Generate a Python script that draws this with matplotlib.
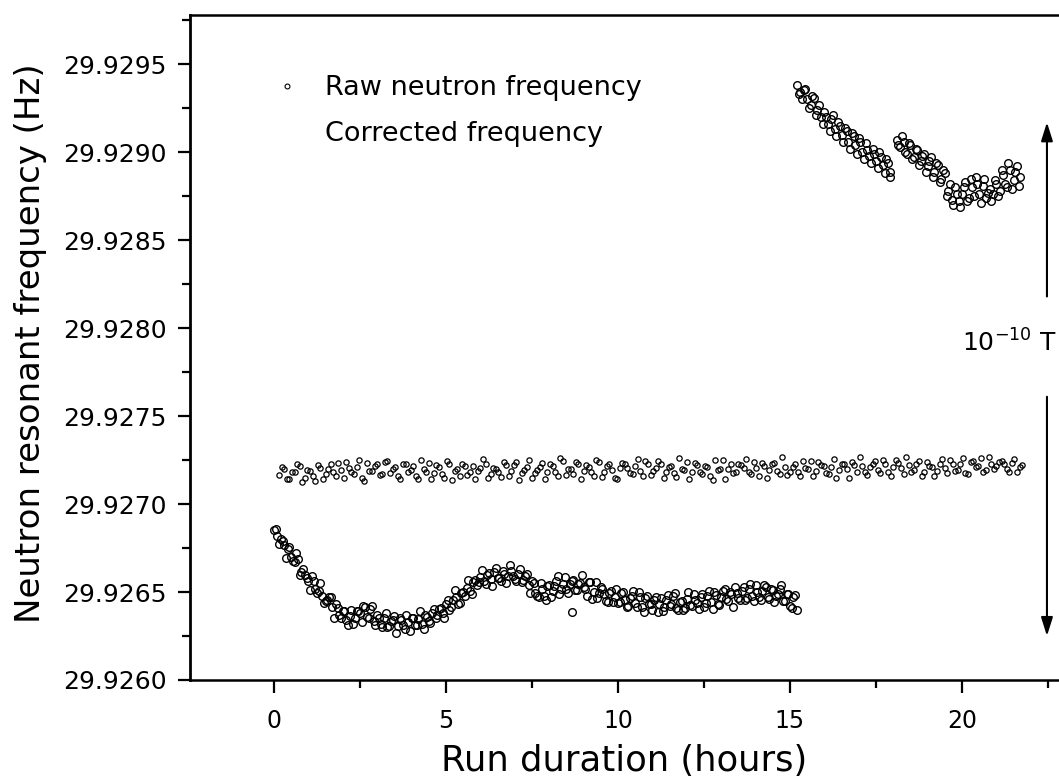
import matplotlib
matplotlib.use("Agg")
import matplotlib.pyplot as plt
from matplotlib.lines import Line2D
from matplotlib.ticker import MultipleLocator, FormatStrFormatter
import numpy as np

# ---------------- data (frequency offsets in micro-Hz above BASE) ----------------
BASE_HZ = 29.9260

# Raw neutron frequency, run 1 (hours) - first pass of readings
raw1_t = [0.0, 0.1, 0.2, 0.3, 0.4, 0.5, 0.6, 0.7, 0.8, 0.9,
          1.0, 1.1, 1.2, 1.3, 1.4, 1.5, 1.6, 1.7, 1.8, 1.9,
          2.0, 2.1, 2.2, 2.3, 2.4, 2.5, 2.6, 2.7, 2.8, 2.9,
          3.0, 3.1, 3.2, 3.3, 3.4, 3.5, 3.6, 3.7, 3.8, 3.9,
          4.0, 4.1, 4.2, 4.3, 4.4, 4.5, 4.6, 4.7, 4.8, 4.9,
          5.0, 5.1, 5.2, 5.3, 5.4, 5.5, 5.6, 5.7, 5.8, 5.9,
          6.0, 6.1, 6.2, 6.3, 6.4, 6.5, 6.6, 6.7, 6.8, 6.9,
          7.0, 7.1, 7.2, 7.3, 7.4, 7.5, 7.6, 7.7, 7.8, 7.9,
          8.0, 8.1, 8.2, 8.3, 8.4, 8.5, 8.6, 8.65, 8.7, 8.8, 8.9,
          9.0, 9.1, 9.2, 9.3, 9.4, 9.5, 9.6, 9.7, 9.8, 9.9,
          10.0, 10.1, 10.2, 10.3, 10.4, 10.5, 10.6, 10.7, 10.8, 10.9,
          11.0, 11.1, 11.2, 11.3, 11.4, 11.5, 11.6, 11.7, 11.8, 11.9,
          12.0, 12.1, 12.2, 12.3, 12.4, 12.5, 12.6, 12.7, 12.8, 12.9,
          13.0, 13.1, 13.2, 13.3, 13.4, 13.5, 13.6, 13.7, 13.8, 13.9,
          14.0, 14.1, 14.2, 14.3, 14.4, 14.5, 14.6, 14.7, 14.8, 14.9,
          15.0, 15.1, 15.2]
raw1_uhz = [852, 820, 801, 770, 742, 700, 668, 690, 612, 598,
            565, 590, 520, 505, 478, 450, 470, 415, 430, 372,
            390, 340, 365, 318, 395, 380, 420, 360, 402, 335,
            370, 318, 355, 300, 338, 362, 305, 340, 290, 330,
            352, 310, 345, 318, 372, 335, 380, 352, 405, 378,
            430, 398, 455, 470, 440, 500, 525, 505, 555, 540,
            585, 560, 598, 575, 612, 580, 560, 605, 590, 620,
            575, 600, 555, 590, 540, 560, 495, 470, 520, 455,
            540, 505, 560, 490, 545, 520, 545, 385, 570, 510, 550,
            530, 480, 555, 500, 465, 530, 490, 445, 505, 470,
            438, 495, 455, 420, 480, 440, 498, 415, 465, 430,
            400, 470, 430, 395, 455, 420, 475, 410, 445, 400,
            460, 425, 490, 440, 470, 415, 480, 445, 500, 430,
            470, 515, 450, 490, 530, 465, 505, 455, 520, 480,
            540, 470, 505, 530, 460, 510, 475, 520, 450, 490,
            420, 470, 400]

# Raw neutron frequency, run 1 - interleaved readings
raw1b_t = [0.05, 0.15, 0.25, 0.35, 0.45, 0.55, 0.65, 0.75, 0.85, 0.95,
           1.05, 1.15, 1.25, 1.35, 1.45, 1.55, 1.65, 1.75, 1.85, 1.95,
           2.05, 2.15, 2.25, 2.35, 2.45, 2.55, 2.65, 2.75, 2.85, 2.95,
           3.05, 3.15, 3.25, 3.35, 3.45, 3.55, 3.65, 3.75, 3.85, 3.95,
           4.05, 4.15, 4.25, 4.35, 4.45, 4.55, 4.65, 4.75, 4.85, 4.95,
           5.05, 5.15, 5.25, 5.35, 5.45, 5.55, 5.65, 5.75, 5.85, 5.95,
           6.05, 6.15, 6.25, 6.35, 6.45, 6.55, 6.65, 6.75, 6.85, 6.95,
           7.05, 7.15, 7.25, 7.35, 7.45, 7.55, 7.65, 7.75, 7.85, 7.95,
           8.05, 8.15, 8.25, 8.35, 8.45, 8.55, 8.65, 8.75, 8.85, 8.95,
           9.05, 9.15, 9.25, 9.35, 9.45, 9.55, 9.65, 9.75, 9.85, 9.95,
           10.05, 10.15, 10.25, 10.35, 10.45, 10.55, 10.65, 10.75, 10.85, 10.95,
           11.05, 11.15, 11.25, 11.35, 11.45, 11.55, 11.65, 11.75, 11.85, 11.95,
           12.05, 12.15, 12.25, 12.35, 12.45, 12.55, 12.65, 12.75, 12.85, 12.95,
           13.05, 13.15, 13.25, 13.35, 13.45, 13.55, 13.65, 13.75, 13.85, 13.95,
           14.05, 14.15, 14.25, 14.35, 14.45, 14.55, 14.65, 14.75, 14.85, 14.95,
           15.05, 15.15]
raw1b_uhz = [860, 775, 790, 695, 755, 675, 720, 595, 630, 580,
             510, 565, 495, 550, 435, 455, 470, 350, 410, 355,
             395, 310, 400, 350, 395, 330, 415, 350, 420, 315,
             350, 300, 380, 305, 343, 265, 352, 310, 370, 277,
             350, 315, 390, 290, 358, 325, 405, 370, 410, 350,
             455, 415, 512, 430, 493, 480, 567, 488, 567, 555,
             625, 547, 608, 537, 635, 581, 622, 552, 651, 589,
             560, 630, 568, 603, 495, 550, 475, 550, 478, 535,
             470, 535, 590, 515, 585, 495, 565, 510, 547, 598,
             517, 555, 463, 555, 497, 520, 448, 497, 446, 520,
             446, 502, 413, 465, 507, 415, 473, 386, 479, 432,
             455, 388, 467, 416, 481, 431, 497, 398, 450, 412,
             499, 421, 453, 405, 487, 439, 506, 403, 481, 429,
             507, 460, 498, 416, 494, 452, 529, 466, 543, 449,
             500, 455, 540, 474, 518, 441, 488, 539, 449, 488,
             410, 485]

# Raw neutron frequency, run 2 (hours)
raw2_t = [15.2, 15.3, 15.4, 15.5, 15.6, 15.7, 15.8, 15.9, 16.0, 16.1,
          16.2, 16.3, 16.4, 16.5, 16.6, 16.7, 16.8, 16.9, 17.0, 17.1,
          17.2, 17.3, 17.4, 17.5, 17.6, 17.7, 17.8, 17.9,
          18.1, 18.2, 18.3, 18.4, 18.5, 18.6, 18.7, 18.8, 18.9, 19.0,
          19.1, 19.2, 19.3, 19.4, 19.5, 19.6, 19.7, 19.8, 19.9, 20.0,
          20.1, 20.2, 20.3, 20.4, 20.5, 20.6, 20.7, 20.8, 20.9, 21.0,
          21.1, 21.2, 21.3, 21.4, 21.5, 21.6, 21.7]
raw2_uhz = [3380, 3340, 3355, 3300, 3270, 3310, 3240, 3200, 3230, 3160,
            3190, 3130, 3170, 3100, 3140, 3060, 3110, 3040, 3080, 3000,
            3050, 2980, 3020, 2950, 3000, 2930, 2960, 2890,
            3070, 3030, 3060, 2990, 3040, 2970, 3010, 2950, 2990, 2920,
            2970, 2890, 2930, 2850, 2880, 2780, 2730, 2800, 2720, 2760,
            2830, 2740, 2800, 2860, 2760, 2810, 2740, 2790, 2760, 2820,
            2780, 2870, 2800, 2900, 2840, 2920, 2860]
raw2b_t = [15.25, 15.35, 15.45, 15.55, 15.65, 15.75, 15.85, 15.95, 16.05, 16.15,
           16.25, 16.35, 16.45, 16.55, 16.65, 16.75, 16.85, 16.95, 17.05, 17.15,
           17.25, 17.35, 17.45, 17.55, 17.65, 17.75, 17.85, 17.92,
           18.15, 18.25, 18.35, 18.45, 18.55, 18.65, 18.75, 18.85, 18.95, 19.05,
           19.15, 19.25, 19.35, 19.45, 19.55, 19.65, 19.75, 19.85, 19.95, 20.05,
           20.15, 20.25, 20.35, 20.45, 20.55, 20.65, 20.75, 20.85, 20.95, 21.05,
           21.15, 21.25, 21.35, 21.45, 21.55, 21.65]
raw2b_uhz = [3330, 3300, 3360, 3250, 3320, 3210, 3270, 3160, 3200, 3120,
             3210, 3090, 3150, 3060, 3120, 3020, 3090, 2990, 3060, 2960,
             3010, 2940, 2990, 2910, 2970, 2880, 2940, 2860,
             3040, 3090, 3000, 3050, 2960, 3020, 2930, 2980, 2890, 2950,
             2860, 2940, 2830, 2900, 2750, 2820, 2700, 2760, 2690, 2800,
             2720, 2850, 2750, 2820, 2710, 2850, 2770, 2720, 2840, 2750,
             2900, 2820, 2940, 2790, 2890, 2810]

# Corrected frequency (hours)
corr_t = [0.15, 0.30, 0.45, 0.60, 0.75, 0.90, 1.05, 1.20, 1.35, 1.50,
          1.65, 1.80, 1.95, 2.10, 2.25, 2.40, 2.55, 2.70, 2.85, 3.00,
          3.15, 3.30, 3.45, 3.60, 3.75, 3.90, 4.05, 4.20, 4.35, 4.50,
          4.65, 4.80, 4.95, 5.10, 5.25, 5.40, 5.55, 5.70, 5.85, 6.00,
          6.15, 6.30, 6.45, 6.60, 6.75, 6.90, 7.05, 7.20, 7.35, 7.50,
          7.65, 7.80, 7.95, 8.10, 8.25, 8.40, 8.55, 8.70, 8.85, 9.00,
          9.15, 9.30, 9.45, 9.60, 9.75, 9.90, 10.05, 10.20, 10.35, 10.50,
          10.65, 10.80, 10.95, 11.10, 11.25, 11.40, 11.55, 11.70, 11.85, 12.00,
          12.15, 12.30, 12.45, 12.60, 12.75, 12.90, 13.05, 13.20, 13.35, 13.50,
          13.65, 13.80, 13.95, 14.10, 14.25, 14.40, 14.55, 14.70, 14.85, 15.00,
          15.15, 15.30, 15.45, 15.60, 15.75, 15.90, 16.05, 16.20, 16.35, 16.50,
          16.65, 16.80, 16.95, 17.10, 17.25, 17.40, 17.55, 17.70, 17.85, 18.00,
          18.15, 18.30, 18.45, 18.60, 18.75, 18.90, 19.05, 19.20, 19.35, 19.50,
          19.65, 19.80, 19.95, 20.10, 20.25, 20.40, 20.55, 20.70, 20.85, 21.00,
          21.15, 21.30, 21.45, 21.60, 21.75]
corr_uhz = [1165, 1200, 1140, 1185, 1215, 1150, 1190, 1130, 1205, 1170,
            1225, 1160, 1195, 1240, 1180, 1210, 1150, 1235, 1190, 1225,
            1170, 1245, 1200, 1160, 1230, 1185, 1215, 1140, 1200, 1235,
            1175, 1210, 1150, 1225, 1190, 1160, 1215, 1180, 1145, 1205,
            1230, 1170, 1200, 1155, 1220, 1190, 1240, 1175, 1210, 1150,
            1195, 1235, 1180, 1215, 1160, 1245, 1200, 1170, 1225, 1190,
            1210, 1160, 1240, 1185, 1225, 1150, 1205, 1230, 1175, 1215,
            1190, 1245, 1165, 1205, 1230, 1180, 1215, 1155, 1200, 1240,
            1185, 1220, 1170, 1210, 1135, 1195, 1250, 1200, 1175, 1230,
            1205, 1180, 1240, 1160, 1215, 1195, 1235, 1170, 1210, 1185,
            1225, 1160, 1205, 1245, 1190, 1220, 1175, 1210, 1150, 1230,
            1200, 1240, 1185, 1215, 1165, 1225, 1195, 1250, 1180, 1210,
            1235, 1170, 1220, 1195, 1245, 1185, 1215, 1160, 1230, 1205,
            1250, 1190, 1225, 1175, 1240, 1210, 1260, 1195, 1230, 1215,
            1245, 1200, 1235, 1185, 1220]
corrb_t = [0.225, 0.375, 0.525, 0.675, 0.825, 0.975, 1.125, 1.275, 1.425, 1.575,
           1.725, 1.875, 2.025, 2.175, 2.325, 2.475, 2.625, 2.775, 2.925, 3.075,
           3.225, 3.375, 3.525, 3.675, 3.825, 3.975, 4.125, 4.275, 4.425, 4.575,
           4.725, 4.875, 5.025, 5.175, 5.325, 5.475, 5.625, 5.775, 5.925, 6.075,
           6.225, 6.375, 6.525, 6.675, 6.825, 6.975, 7.125, 7.275, 7.425, 7.575,
           7.725, 7.875, 8.025, 8.175, 8.325, 8.475, 8.625, 8.775, 8.925, 9.075,
           9.225, 9.375, 9.525, 9.675, 9.825, 9.975, 10.125, 10.275, 10.425, 10.575,
           10.725, 10.875, 11.025, 11.175, 11.325, 11.475, 11.625, 11.775, 11.925, 12.075,
           12.225, 12.375, 12.525, 12.675, 12.825, 12.975, 13.125, 13.275, 13.425, 13.575,
           13.725, 13.875, 14.025, 14.175, 14.325, 14.475, 14.625, 14.775, 14.925, 15.075,
           15.225, 15.375, 15.525, 15.675, 15.825, 15.975, 16.125, 16.275, 16.425, 16.575,
           16.725, 16.875, 17.025, 17.175, 17.325, 17.475, 17.625, 17.775, 17.925, 18.075,
           18.225, 18.375, 18.525, 18.675, 18.825, 18.975, 19.125, 19.275, 19.425, 19.575,
           19.725, 19.875, 20.025, 20.175, 20.325, 20.475, 20.625, 20.775, 20.925, 21.075,
           21.225, 21.375, 21.525, 21.675]
corrb_uhz = [1210, 1145, 1180, 1230, 1125, 1195, 1160, 1220, 1140, 1200,
             1185, 1235, 1150, 1205, 1170, 1250, 1130, 1190, 1215, 1165,
             1240, 1175, 1210, 1145, 1225, 1195, 1160, 1250, 1180, 1140,
             1220, 1170, 1245, 1135, 1200, 1230, 1165, 1215, 1190, 1255,
             1150, 1205, 1180, 1240, 1160, 1220, 1135, 1195, 1250, 1175,
             1210, 1145, 1230, 1185, 1260, 1165, 1200, 1240, 1140, 1220,
             1180, 1250, 1155, 1215, 1195, 1140, 1235, 1205, 1170, 1255,
             1160, 1225, 1190, 1245, 1150, 1210, 1175, 1260, 1195, 1145,
             1235, 1185, 1215, 1160, 1250, 1200, 1140, 1230, 1180, 1220,
             1255, 1170, 1205, 1235, 1150, 1225, 1190, 1265, 1165, 1210,
             1180, 1245, 1200, 1160, 1240, 1215, 1170, 1255, 1195, 1230,
             1150, 1220, 1265, 1185, 1210, 1245, 1175, 1230, 1160, 1250,
             1205, 1270, 1185, 1225, 1160, 1240, 1210, 1190, 1255, 1175,
             1230, 1195, 1260, 1170, 1245, 1215, 1185, 1265, 1200, 1240,
             1225, 1180, 1255, 1210]

# 10^-10 T field equivalent (Hz span of the double arrow)
field_label = "10$^{-10}$ T"
arrow_low_hz = 29.92625
arrow_high_hz = 29.92917

x_ticks = [0, 5, 10, 15, 20]
y_ticks = [29.9260, 29.9265, 29.9270, 29.9275, 29.9280, 29.9285, 29.9290, 29.9295]

legend_labels = ["Raw neutron frequency", "Corrected frequency"]

def to_hz(arr):
    return BASE_HZ + np.asarray(arr, dtype=float) * 1e-6

# ---------------- figure ----------------
plt.rcParams['font.family'] = ['DejaVu Sans']
fig = plt.figure(figsize=(10.59, 7.79), dpi=100)
ax = fig.add_axes([190 / 1059, 99 / 779, 869 / 1059, 665 / 779])

mk = dict(linestyle='none', marker='o', mfc='none', mec='black')
ax.plot(raw1_t + raw1b_t, to_hz(raw1_uhz + raw1b_uhz), ms=5.5, mew=1.0, **mk)
ax.plot(raw2_t + raw2b_t, to_hz(raw2_uhz + raw2b_uhz), ms=5.5, mew=1.0, **mk)
ax.plot(corr_t + corrb_t, to_hz(corr_uhz + corrb_uhz), ms=3.8, mew=0.9, **mk)

ax.set_xlim(-2.44, 22.82)
ax.set_ylim(29.9260, 29.92978)

ax.set_xticks(x_ticks)
ax.xaxis.set_minor_locator(MultipleLocator(2.5))
ax.set_yticks(y_ticks)
ax.yaxis.set_minor_locator(MultipleLocator(0.00025))
ax.yaxis.set_major_formatter(FormatStrFormatter('%.4f'))

ax.tick_params(axis='both', which='major', direction='out', length=9, width=1.6,
               colors='black')
ax.tick_params(axis='both', which='minor', direction='out', length=6, width=1.6)
ax.tick_params(axis='y', which='major', pad=8, labelsize=18)
ax.tick_params(axis='x', which='major', pad=12, labelsize=17)

for s in ['left', 'bottom', 'top']:
    ax.spines[s].set_linewidth(1.8)
ax.spines['left'].set_linewidth(2.0)
ax.spines['right'].set_visible(False)

ax.set_xlabel("Run duration (hours)", fontsize=25.5, labelpad=8)
ax.set_ylabel("Neutron resonant frequency (Hz)", fontsize=24.5)
ax.yaxis.set_label_coords(-0.165, 0.507)

# 10^-10 T arrows
ax_x = 22.47
for tail, tip in [(29.92818, arrow_high_hz), (29.92761, arrow_low_hz)]:
    ax.annotate("", xy=(ax_x, tip), xytext=(ax_x, tail),
                arrowprops=dict(arrowstyle='-|>,head_length=0.7,head_width=0.22',
                                color='black', lw=1.5, mutation_scale=16,
                                shrinkA=0, shrinkB=0))
ax.text(21.37, 29.927915, field_label, fontsize=18, ha='center', va='center')

handles = [Line2D([], [], ms=3.5, mew=0.8, **mk),
           Line2D([], [], linestyle='none', marker='')]
ax.legend(handles, legend_labels, loc='upper left', bbox_to_anchor=(0.096, 0.9095),
          frameon=False, fontsize=19.5, handlelength=1.0, handletextpad=0.9,
          borderpad=0, borderaxespad=0, labelspacing=0.74)

fig.savefig("out.png", dpi=100)
